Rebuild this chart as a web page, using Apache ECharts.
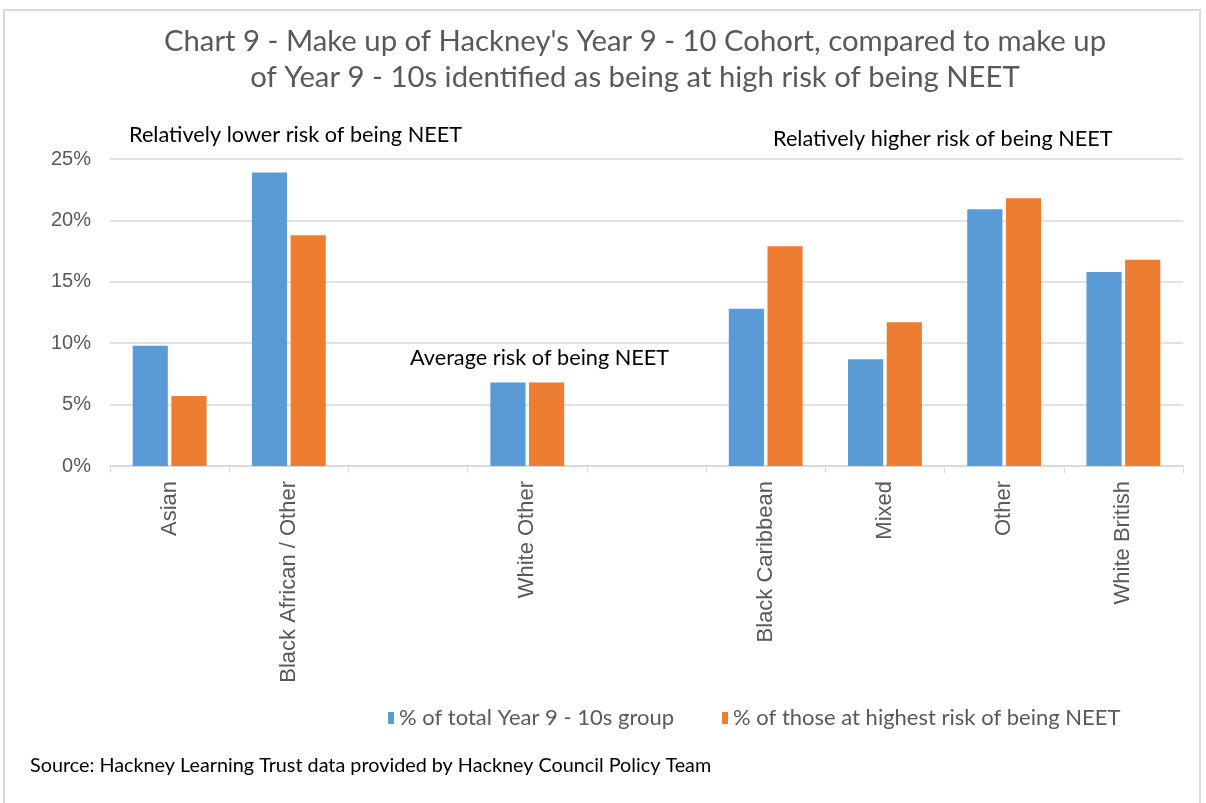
<!DOCTYPE html>
<html>
<head>
<meta charset="UTF-8">
<title>Chart 9</title>
<style>
  html, body { margin: 0; padding: 0; background: #fff; }
  #container { width: 1206px; height: 803px; }
</style>
</head>
<body>
<div id="container"></div>
<script src="https://cdn.jsdelivr.net/npm/echarts@6/dist/echarts.min.js"></script>
<script>
// categories (blank slots separate the three risk groups)
var categories = ['Asian', 'Black African / Other', '', 'White Other', '', 'Black Caribbean', 'Mixed', 'Other', 'White British'];
// values in %
var totalGroup = [9.8, 23.9, null, 6.8, null, 12.8, 8.7, 20.9, 15.8];
var highRisk   = [5.7, 18.8, null, 6.8, null, 17.9, 11.7, 21.8, 16.8];
var yTicks = [0, 5, 10, 15, 20, 25];

var font = 'Lato, "Liberation Sans", sans-serif';
var arial = '"Liberation Sans", Arial, sans-serif';
var myChart = echarts.init(document.getElementById('container'));

myChart.setOption({
    backgroundColor: '#fff',
    animation: false,
    title: {
        text: "Chart 9 - Make up of Hackney's Year 9 - 10 Cohort, compared to make up\nof Year 9 - 10s identified as being at high risk of being NEET",
        left: 630,
        textAlign: 'center',
        top: 19,
        textStyle: { fontFamily: font, fontWeight: 'normal', fontSize: 29.3, color: '#595959', lineHeight: 36 }
    },
    legend: {
        top: 702,
        left: 383,
        itemWidth: 6,
        itemHeight: 12,
        itemGap: 48,
        icon: 'rect',
        textStyle: { fontFamily: font, fontSize: 22, color: '#595959' },
        data: ['% of total Year 9 - 10s group', '% of those at highest risk of being NEET']
    },
    grid: { left: 110, right: 23, top: 159, bottom: 337, containLabel: false },
    xAxis: {
        type: 'category',
        data: categories,
        axisLine: { lineStyle: { color: '#d9d9d9', width: 2 } },
        axisTick: { show: true, length: 7, lineStyle: { color: '#d9d9d9' } },
        axisLabel: { rotate: 90, margin: 15, fontFamily: arial, fontSize: 22, color: '#595959' }
    },
    yAxis: {
        type: 'value',
        min: yTicks[0],
        max: yTicks[yTicks.length - 1],
        interval: 5,
        axisLine: { show: false },
        axisTick: { show: false },
        axisLabel: { formatter: '{value}%', margin: 19, fontFamily: arial, fontSize: 20, color: '#595959' },
        splitLine: { lineStyle: { color: '#d9d9d9', width: 1.5 } }
    },
    series: [
        {
            name: '% of total Year 9 - 10s group',
            type: 'bar',
            data: totalGroup,
            barWidth: '29.5%',
            barGap: '10%',
            itemStyle: { color: '#5b9bd5' }
        },
        {
            name: '% of those at highest risk of being NEET',
            type: 'bar',
            data: highRisk,
            barWidth: '29.5%',
            itemStyle: { color: '#ed7d31' }
        }
    ],
    graphic: [
        { type: 'rect', shape: { x: 4, y: 10, width: 1196, height: 800 }, style: { fill: 'none', stroke: '#d9d9d9', lineWidth: 2 }, silent: true },
        { type: 'text', left: 129, top: 124, style: { text: 'Relatively lower risk of being NEET', fontFamily: font, fontSize: 21.7, fill: '#000' } },
        { type: 'text', left: 773, top: 128, style: { text: 'Relatively higher risk of being NEET', fontFamily: font, fontSize: 21.7, fill: '#000' } },
        { type: 'text', left: 410, top: 347, style: { text: 'Average risk of being NEET', fontFamily: font, fontSize: 21.7, fill: '#000' } },
        { type: 'text', left: 30, top: 756, style: { text: 'Source: Hackney Learning Trust data provided by Hackney Council Policy Team', fontFamily: font, fontSize: 19.8, fill: '#000' } }
    ]
});
</script>
</body>
</html>
